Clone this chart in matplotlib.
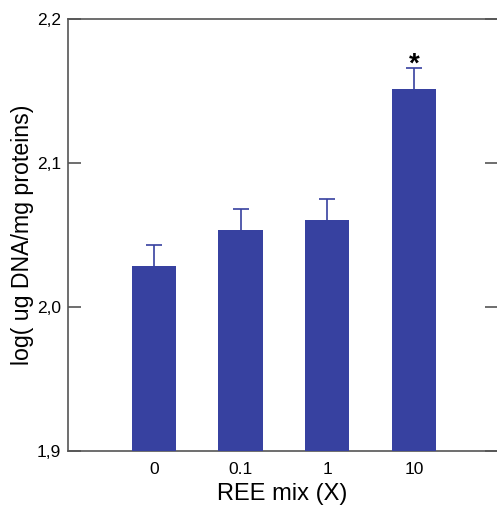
import numpy as np
import matplotlib
matplotlib.use("Agg")
import matplotlib.pyplot as plt

plt.rcParams['font.family'] = ['Liberation Sans', 'DejaVu Sans']

# 数据
categories = ["0", "0.1", "1", "10"]
values = [2.0285, 2.0535, 2.0605, 2.1512]
errors = [0.0145, 0.0143, 0.0144, 0.0146]
y_ticks = [1.9, 2.0, 2.1, 2.2]
y_tick_labels = ["1,9", "2,0", "2,1", "2,2"]
bar_color = "#3741A0"
axis_color = "#555555"

fig = plt.figure(figsize=(4.97, 5.07), dpi=100)
ax = fig.add_axes([0.137, 0.1105, 0.863, 0.852])

x = np.arange(len(categories))
tops = np.array(values) + np.array(errors)
ax.bar(x, values, width=0.51, color=bar_color, zorder=3)
# 只画向上的误差线：竖线 + 顶端横帽
ax.vlines(x, values, tops, color=bar_color, linewidth=1.2, zorder=2)
ax.plot(x, tops, linestyle="none", marker="_", markersize=11,
        markeredgewidth=1.2, color=bar_color, zorder=2)

# 显著性标记
ax.annotate("*", (x[3], tops[3]), xytext=(0, -2.5), textcoords="offset points",
            ha="center", va="baseline", fontsize=20, fontweight="bold")

ax.set_xlim(-0.99, 3.96)
ax.set_ylim(1.9, 2.2)
ax.set_xticks(x)
ax.set_xticklabels(categories, fontsize=12.5)
ax.set_yticks(y_ticks)
ax.set_yticklabels(y_tick_labels, fontsize=12.5)

ax.tick_params(axis="x", length=0, pad=8)
ax.tick_params(axis="y", direction="in", length=9, width=1.2, color=axis_color,
               right=True, pad=5)

ax.spines["right"].set_visible(False)
for s in ["left", "top", "bottom"]:
    ax.spines[s].set_color(axis_color)
    ax.spines[s].set_linewidth(1.2)

ax.set_xlabel("REE mix (X)", fontsize=17, labelpad=4)
ax.set_ylabel("log( ug DNA/mg proteins)", fontsize=16.7, labelpad=2)

fig.savefig("out.png", dpi=100)
